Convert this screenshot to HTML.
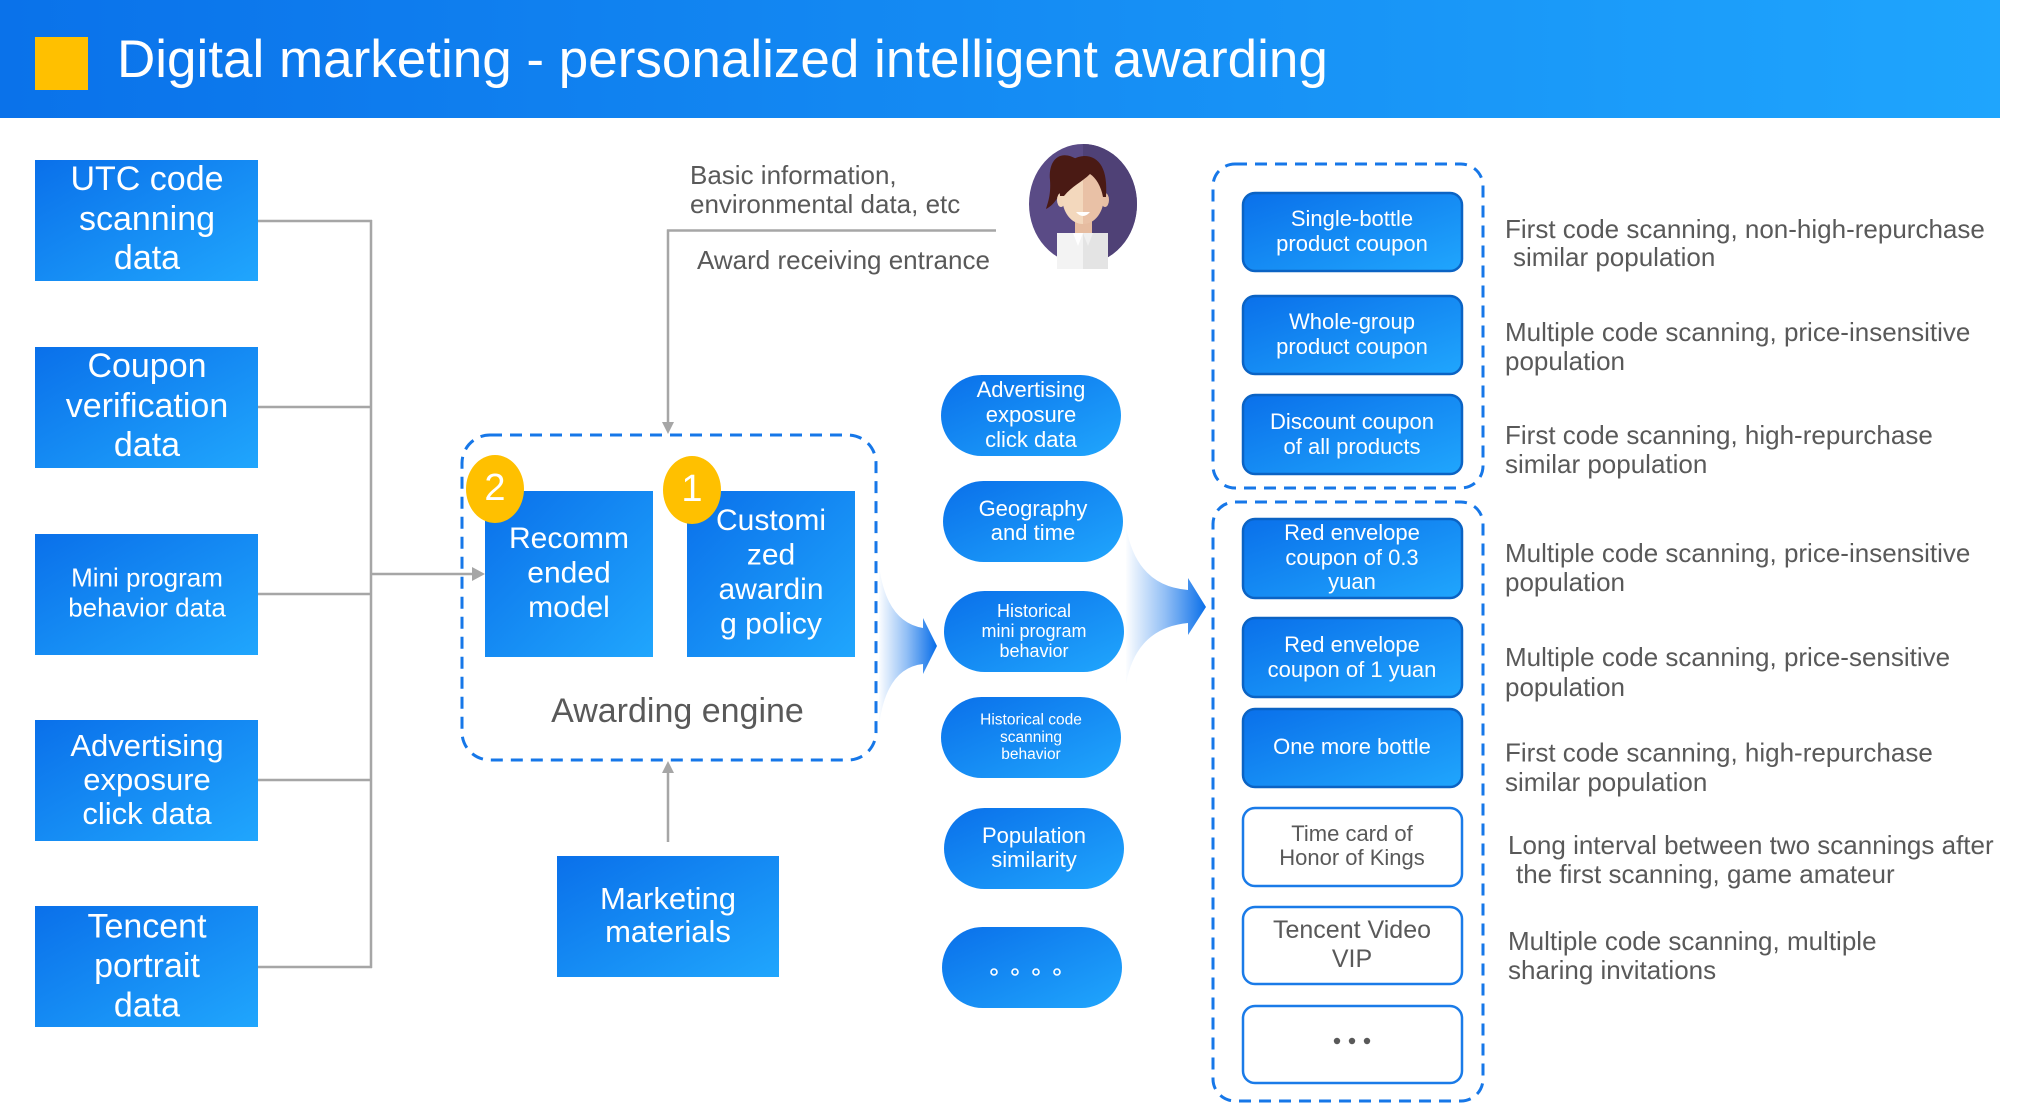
<!DOCTYPE html>
<html>
<head>
<meta charset="utf-8">
<style>
  html, body { margin:0; padding:0; background:#ffffff; }
  body { width:2038px; height:1104px; overflow:hidden; }
  svg { display:block; }
  text { font-family: "Liberation Sans", Arial, sans-serif; }
</style>
</head>
<body>
<svg width="2038" height="1104" viewBox="0 0 2038 1104" xmlns="http://www.w3.org/2000/svg">
  <defs>
    <linearGradient id="hg" x1="0" y1="0" x2="1" y2="0">
      <stop offset="0" stop-color="#0a72ea"/>
      <stop offset="1" stop-color="#1fa5fd"/>
    </linearGradient>
    <linearGradient id="bg" x1="0" y1="0" x2="1" y2="1">
      <stop offset="0" stop-color="#0a70ea"/>
      <stop offset="1" stop-color="#20a6fd"/>
    </linearGradient>
    <linearGradient id="a1" gradientUnits="userSpaceOnUse" x1="878" y1="0" x2="936" y2="0">
      <stop offset="0" stop-color="#0a6fe9" stop-opacity="0"/>
      <stop offset="0.5" stop-color="#0a6fe9" stop-opacity="0.45"/>
      <stop offset="1" stop-color="#0a6fe9" stop-opacity="1"/>
    </linearGradient>
    <linearGradient id="a2" gradientUnits="userSpaceOnUse" x1="1125" y1="0" x2="1206" y2="0">
      <stop offset="0" stop-color="#0a6fe9" stop-opacity="0"/>
      <stop offset="0.5" stop-color="#0a6fe9" stop-opacity="0.45"/>
      <stop offset="1" stop-color="#0a6fe9" stop-opacity="1"/>
    </linearGradient>
    <clipPath id="rightHalf"><rect x="1083" y="100" width="100" height="200"/></clipPath>
  </defs>

  <!-- Header -->
  <rect x="0" y="0" width="2000" height="118" fill="url(#hg)"/>
  <rect x="35" y="37" width="53" height="53" fill="#ffc000"/>
  <text x="117" y="77" font-size="53" fill="#ffffff">Digital marketing - personalized intelligent awarding</text>

  <!-- Left connectors -->
  <g stroke="#a6a6a6" stroke-width="2.5" fill="none">
    <line x1="258" y1="221" x2="372" y2="221"/>
    <line x1="258" y1="407" x2="372" y2="407"/>
    <line x1="258" y1="594" x2="372" y2="594"/>
    <line x1="258" y1="780" x2="372" y2="780"/>
    <line x1="258" y1="967" x2="372" y2="967"/>
    <line x1="371" y1="220" x2="371" y2="968"/>
    <line x1="371" y1="574" x2="475" y2="574"/>
    <!-- top connector -->
    <line x1="996" y1="230.5" x2="667" y2="230.5"/>
    <line x1="668" y1="229.5" x2="668" y2="424"/>
    <!-- bottom connector -->
    <line x1="668" y1="842" x2="668" y2="771"/>
  </g>
  <polygon points="472,567 485,574 472,581" fill="#a6a6a6"/>
  <polygon points="662,422 668,434 674,422" fill="#a6a6a6"/>
  <polygon points="662,773 668,761 674,773" fill="#a6a6a6"/>

  <!-- Left data boxes -->
  <g fill="url(#bg)">
    <rect x="35" y="160" width="223" height="121"/>
    <rect x="35" y="347" width="223" height="121"/>
    <rect x="35" y="534" width="223" height="121"/>
    <rect x="35" y="720" width="223" height="121"/>
    <rect x="35" y="906" width="223" height="121"/>
  </g>
  <g fill="#ffffff" text-anchor="middle">
    <text x="147" y="190" font-size="34">UTC code</text>
    <text x="147" y="230" font-size="34">scanning</text>
    <text x="147" y="269" font-size="34">data</text>

    <text x="147" y="377" font-size="34">Coupon</text>
    <text x="147" y="417" font-size="34">verification</text>
    <text x="147" y="456" font-size="34">data</text>

    <text x="147" y="586.5" font-size="26">Mini program</text>
    <text x="147" y="616.5" font-size="26">behavior data</text>

    <text x="147" y="756" font-size="31">Advertising</text>
    <text x="147" y="790" font-size="31">exposure</text>
    <text x="147" y="824" font-size="31">click data</text>

    <text x="147" y="937.5" font-size="34">Tencent</text>
    <text x="147" y="977" font-size="34">portrait</text>
    <text x="147" y="1016.5" font-size="34">data</text>
  </g>

  <!-- Top annotation texts -->
  <g fill="#595959" font-size="26">
    <text x="690" y="184">Basic information,</text>
    <text x="690" y="213">environmental data, etc</text>
    <text x="697" y="269">Award receiving entrance</text>
  </g>

  <!-- Avatar -->
  <g>
    <ellipse cx="1083" cy="204" rx="54" ry="60" fill="#5a4b86"/>
    <ellipse cx="1083" cy="204" rx="54" ry="60" fill="#4f4176" clip-path="url(#rightHalf)"/>
    <!-- ponytail -->
    <path d="M1078 160 C1060 148 1048 160 1050 180 C1051 195 1048 202 1046 209 C1056 204 1062 192 1064 178 Z" fill="#4a1a14"/>
    <!-- neck -->
    <rect x="1075" y="218" width="17" height="18" fill="#e6bca0"/>
    <!-- shirt -->
    <rect x="1057" y="233" width="26" height="36" fill="#f3f3f3"/>
    <rect x="1083" y="233" width="25" height="36" fill="#e4e4e4"/>
    <polygon points="1073,233 1083,233 1078,246" fill="#ffffff"/>
    <polygon points="1083,233 1093,233 1088,246" fill="#f0f0f0"/>
    <!-- ears -->
    <ellipse cx="1061" cy="200" rx="4" ry="7" fill="#f2d6bb"/>
    <ellipse cx="1105" cy="200" rx="4" ry="7" fill="#e7bfa4"/>
    <!-- face -->
    <path d="M1083 168 C1070 168 1062 180 1062 196 C1062 212 1071 224 1083 224 Z" fill="#f3d8bd"/>
    <path d="M1083 168 C1096 168 1104 180 1104 196 C1104 212 1095 224 1083 224 Z" fill="#e9c1a6"/>
    <!-- hair top -->
    <path d="M1060 196 C1058 172 1068 157 1084 156 C1100 156 1108 170 1106 197 L1103 197 C1101 186 1096 178 1090 174 C1082 182 1072 186 1064 196 Z" fill="#4a1a14"/>
    <!-- smile -->
    <path d="M1076 212 Q1083 220 1090 212 Z" fill="#ffffff"/>
  </g>

  <!-- Awarding engine dashed box -->
  <rect x="462" y="435" width="414" height="325" rx="28" ry="28" fill="none" stroke="#1677e8" stroke-width="3" stroke-dasharray="12 8"/>

  <rect x="485" y="491" width="168" height="166" fill="url(#bg)"/>
  <rect x="687" y="491" width="168" height="166" fill="url(#bg)"/>
  <g fill="#ffffff" text-anchor="middle" font-size="30">
    <text x="569" y="548">Recomm</text>
    <text x="569" y="582.5">ended</text>
    <text x="569" y="617">model</text>

    <text x="771" y="530">Customi</text>
    <text x="771" y="564.5">zed</text>
    <text x="771" y="599">awardin</text>
    <text x="771" y="633.5">g policy</text>
  </g>
  <ellipse cx="495" cy="489" rx="29" ry="34" fill="#ffc000"/>
  <ellipse cx="692" cy="490" rx="29" ry="34" fill="#ffc000"/>
  <g fill="#ffffff" text-anchor="middle" font-size="38">
    <text x="495" y="500">2</text>
    <text x="692" y="501">1</text>
  </g>
  <text x="677.5" y="722" text-anchor="middle" font-size="34" fill="#595959">Awarding engine</text>

  <!-- Marketing materials -->
  <rect x="557" y="856" width="222" height="121" fill="url(#bg)"/>
  <g fill="#ffffff" text-anchor="middle" font-size="31">
    <text x="668" y="909">Marketing</text>
    <text x="668" y="942">materials</text>
  </g>

  <!-- Blue fan arrows -->
  <path d="M879 565 Q886 622 923 628 L923 618 L937 646 L923 674 L923 664 Q886 668 879 726 Z" fill="url(#a1)"/>
  <path d="M1126 526 Q1136 586 1188 590 L1188 578 L1206 607 L1188 635 L1188 623 Q1136 628 1126 684 Z" fill="url(#a2)"/>

  <!-- Pills -->
  <g fill="url(#bg)">
    <rect x="941" y="375" width="180" height="81" rx="40.5"/>
    <rect x="943" y="481" width="180" height="81" rx="40.5"/>
    <rect x="944" y="591" width="180" height="81" rx="40.5"/>
    <rect x="941" y="697" width="180" height="81" rx="40.5"/>
    <rect x="944" y="808" width="180" height="81" rx="40.5"/>
    <rect x="942" y="927" width="180" height="81" rx="40.5"/>
  </g>
  <g fill="#ffffff" text-anchor="middle">
    <text x="1031" y="397" font-size="22">Advertising</text>
    <text x="1031" y="422" font-size="22">exposure</text>
    <text x="1031" y="447" font-size="22">click data</text>

    <text x="1033" y="516" font-size="22">Geography</text>
    <text x="1033" y="540" font-size="22">and time</text>

    <text x="1034" y="617" font-size="18">Historical</text>
    <text x="1034" y="637" font-size="18">mini program</text>
    <text x="1034" y="657" font-size="18">behavior</text>

    <text x="1031" y="724.5" font-size="15.5">Historical code</text>
    <text x="1031" y="742" font-size="15.5">scanning</text>
    <text x="1031" y="759" font-size="15.5">behavior</text>

    <text x="1034" y="843" font-size="22">Population</text>
    <text x="1034" y="867" font-size="22">similarity</text>
  </g>
  <g fill="none" stroke="#ffffff" stroke-width="1.6">
    <circle cx="994" cy="972" r="3"/>
    <circle cx="1015" cy="972" r="3"/>
    <circle cx="1036" cy="972" r="3"/>
    <circle cx="1057" cy="972" r="3"/>
  </g>

  <!-- Right dashed groups -->
  <rect x="1213" y="164" width="270" height="324" rx="22" ry="22" fill="none" stroke="#1677e8" stroke-width="3" stroke-dasharray="12 8"/>
  <rect x="1213" y="502" width="270" height="599" rx="22" ry="22" fill="none" stroke="#1677e8" stroke-width="3" stroke-dasharray="12 8"/>

  <!-- Right buttons (blue) -->
  <g fill="url(#bg)" stroke="#0b63c4" stroke-width="2.5">
    <rect x="1243" y="193" width="219" height="78" rx="12"/>
    <rect x="1243" y="296" width="219" height="78" rx="12"/>
    <rect x="1243" y="395" width="219" height="79" rx="12"/>
    <rect x="1243" y="519" width="219" height="79" rx="12"/>
    <rect x="1243" y="618" width="219" height="79" rx="12"/>
    <rect x="1243" y="709" width="219" height="78" rx="12"/>
  </g>
  <!-- Right buttons (white) -->
  <g fill="#ffffff" stroke="#1a7be8" stroke-width="2.5">
    <rect x="1243" y="808" width="219" height="78" rx="12"/>
    <rect x="1243" y="907" width="219" height="77" rx="12"/>
    <rect x="1243" y="1006" width="219" height="77" rx="12"/>
  </g>
  <g fill="#ffffff" text-anchor="middle" font-size="22">
    <text x="1352" y="226">Single-bottle</text>
    <text x="1352" y="251">product coupon</text>

    <text x="1352" y="329">Whole-group</text>
    <text x="1352" y="354">product coupon</text>

    <text x="1352" y="429">Discount coupon</text>
    <text x="1352" y="454">of all products</text>

    <text x="1352" y="540">Red envelope</text>
    <text x="1352" y="565">coupon of 0.3</text>
    <text x="1352" y="589">yuan</text>

    <text x="1352" y="652">Red envelope</text>
    <text x="1352" y="677">coupon of 1 yuan</text>

    <text x="1352" y="754">One more bottle</text>
  </g>
  <g fill="#595959" text-anchor="middle">
    <text x="1352" y="841" font-size="22">Time card of</text>
    <text x="1352" y="865" font-size="22">Honor of Kings</text>
    <text x="1352" y="938" font-size="25">Tencent Video</text>
    <text x="1352" y="967" font-size="25">VIP</text>
  </g>
  <g fill="#595959">
    <circle cx="1337" cy="1041" r="3.2"/>
    <circle cx="1352" cy="1041" r="3.2"/>
    <circle cx="1367" cy="1041" r="3.2"/>
  </g>

  <!-- Right descriptions -->
  <g fill="#595959" font-size="26">
    <text x="1505" y="238">First code scanning, non-high-repurchase</text>
    <text x="1513" y="266">similar population</text>

    <text x="1505" y="341">Multiple code scanning, price-insensitive</text>
    <text x="1505" y="370">population</text>

    <text x="1505" y="444">First code scanning, high-repurchase</text>
    <text x="1505" y="473">similar population</text>

    <text x="1505" y="562">Multiple code scanning, price-insensitive</text>
    <text x="1505" y="591">population</text>

    <text x="1505" y="666">Multiple code scanning, price-sensitive</text>
    <text x="1505" y="696">population</text>

    <text x="1505" y="761.5">First code scanning, high-repurchase</text>
    <text x="1505" y="791">similar population</text>

    <text x="1508" y="854">Long interval between two scannings after</text>
    <text x="1516" y="883">the first scanning, game amateur</text>

    <text x="1508" y="950">Multiple code scanning, multiple</text>
    <text x="1508" y="979">sharing invitations</text>
  </g>
</svg>
</body>
</html>
